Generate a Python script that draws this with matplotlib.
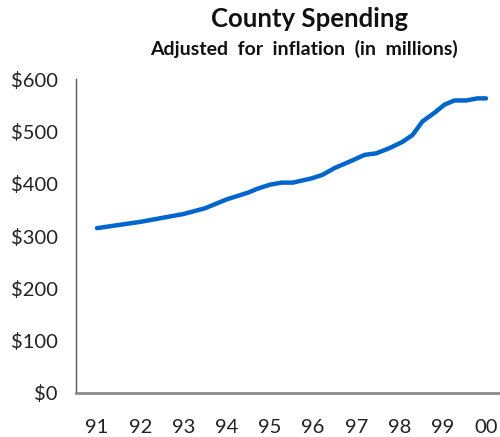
import matplotlib
matplotlib.use("Agg")
import matplotlib.pyplot as plt

# spending in millions, x as decimal year (91 = 1991)
years = [91.0, 92.0, 93.0, 93.5, 94.0, 94.5, 94.7, 95.0, 95.27, 95.53, 95.96,
         96.22, 96.5, 96.84, 97.19, 97.46, 97.77, 98.07, 98.3, 98.53, 98.8,
         99.04, 99.27, 99.54, 99.8, 100.0]
spending = [315, 327, 342, 353, 370, 383, 390, 398, 402, 402, 410,
            417, 430, 442, 455, 458, 468, 480, 493, 519, 535,
            551, 559, 559, 563, 563]

tick_years = [91, 92, 93, 94, 95, 96, 97, 98, 99, 100]
tick_labels = ["91", "92", "93", "94", "95", "96", "97", "98", "99", "00"]
y_ticks = [0, 100, 200, 300, 400, 500, 600]

plt.rcParams["font.family"] = ["Lato", "DejaVu Sans"]

fig = plt.figure(figsize=(5, 4.37), dpi=100)
ax = fig.add_axes([0.152, 0.1007, 0.846, 0.7185])

ax.plot(years, spending, color="#0066cc", lw=3.2, solid_capstyle="round",
        solid_joinstyle="round")

ax.set_xlim(90.515, 100.3)
ax.set_ylim(0, 600)
ax.set_xticks(tick_years)
ax.set_xticklabels(tick_labels)
ax.set_yticks(y_ticks)
ax.set_yticklabels([f"${v}" for v in y_ticks])
ax.tick_params(length=0, labelsize=14.5, colors="#222222")
ax.tick_params(axis="y", pad=13)
ax.tick_params(axis="x", pad=19)

for s in ["top", "right"]:
    ax.spines[s].set_visible(False)
ax.spines["left"].set_color("#555555")
ax.spines["left"].set_linewidth(1.0)
ax.spines["bottom"].set_color("#8c8c8c")
ax.spines["bottom"].set_linewidth(2.0)

fig.text(0.62, 1 - 19 / 437, "County Spending", ha="center", va="center",
         fontsize=18.5, fontweight="bold", color="#111111")
fig.text(0.608, 1 - 49 / 437, "Adjusted  for  inflation  (in  millions)",
         ha="center", va="center", fontsize=14, fontweight="bold",
         color="#111111")

fig.savefig("out.png", dpi=100)
